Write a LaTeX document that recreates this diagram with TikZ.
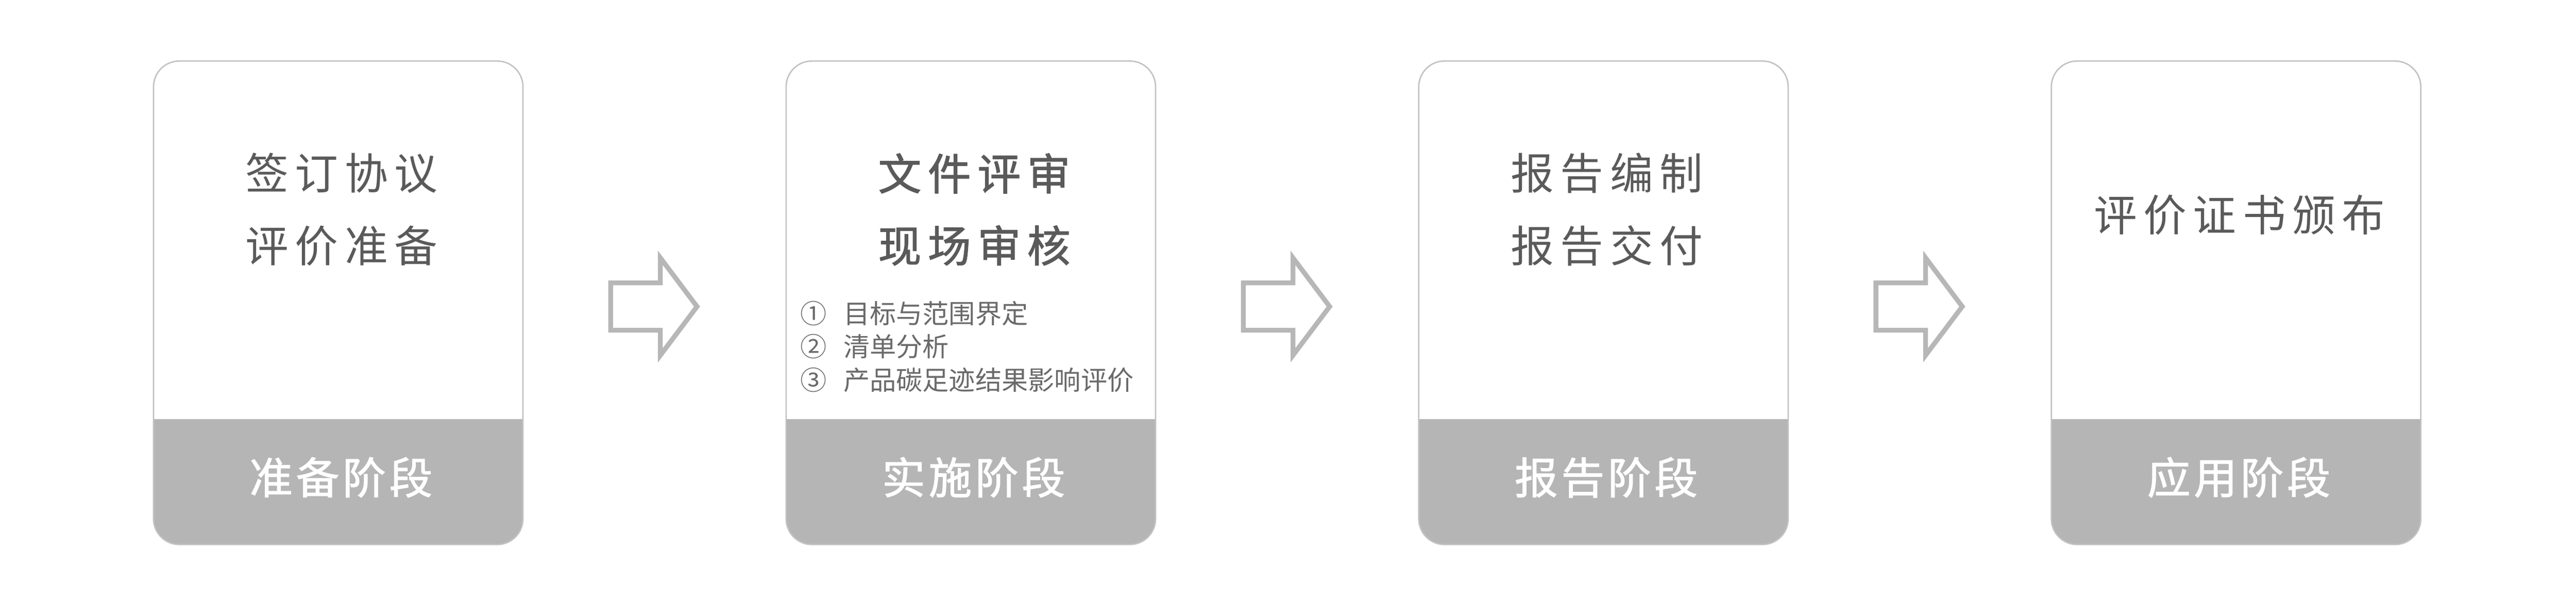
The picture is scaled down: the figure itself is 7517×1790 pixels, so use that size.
\documentclass[tikz,border=0pt]{standalone}
\usepackage{fontspec}
\newfontfamily\songf{Noto Sans CJK SC}
\newfontfamily\songbf{Noto Sans CJK SC}[FakeBold=1.5]
\newfontfamily\listf{Noto Sans CJK SC}
\definecolor{bordc}{HTML}{C2C2C2}
\definecolor{bandc}{HTML}{B5B5B5}
\definecolor{arrc}{HTML}{B7B7B7}
\definecolor{titc}{HTML}{5A5A5A}
\definecolor{lstc}{HTML}{6A6A6A}
\begin{document}
\begin{tikzpicture}[x=1pt,y=-1pt,
  stagebox/.style={draw=bordc, line width=4pt, fill=white, rounded corners=75pt,
    minimum width=1078pt, minimum height=1410pt, inner sep=0pt,
    path picture={\fill[bandc, sharp corners] (path picture bounding box.south west) rectangle ([yshift=366pt]path picture bounding box.south east);}},
  title/.style={text=titc, font=\songf\fontsize{126pt}{150pt}\selectfont\addfontfeature{LetterSpace=15}, anchor=base, inner sep=0pt},
  boldtitle/.style={title, font=\songbf\fontsize{126pt}{150pt}\selectfont\addfontfeature{LetterSpace=15}},
  stagelabel/.style={text=white, font=\songbf\fontsize{126pt}{150pt}\selectfont\addfontfeature{LetterSpace=8}, anchor=base, inner sep=0pt},
  item/.style={text=lstc, font=\listf\fontsize{77pt}{90pt}\selectfont, anchor=base west, inner sep=0pt},
  blockarrow/.style={draw=arrc, line width=14pt, fill=white, miter limit=10}
]
\useasboundingbox (0,0) rectangle (7517,1790);

% stage boxes
\node[stagebox] (b1) at (987,883) {};
\node[stagebox] (b2) at (2833,883) {};
\node[stagebox] (b3) at (4679,883) {};
\node[stagebox] (b4) at (6525,883) {};

% box 1
\node[title] (t1a) at (997,552) {签订协议};
\node[title] (t1b) at (997,764) {评价准备};
\node[stagelabel] (l1) at (995,1440) {准备阶段};

% box 2
\node[boldtitle] (t2a) at (2843,554) {文件评审};
\node[boldtitle] (t2b) at (2843,764) {现场审核};
\node[item] (n1) at (2336,943) {①};
\node[item] (i1) at (2461,943) {目标与范围界定};
\node[item] (n2) at (2336,1040) {②};
\node[item] (i2) at (2461,1040) {清单分析};
\node[item] (n3) at (2336,1138) {③};
\node[item] (i3) at (2461,1138) {产品碳足迹结果影响评价};
\node[stagelabel] (l2) at (2841,1440) {实施阶段};

% box 3
\node[title] (t3a) at (4689,552) {报告编制};
\node[title] (t3b) at (4689,764) {报告交付};
\node[stagelabel] (l3) at (4687,1440) {报告阶段};

% box 4
\node[title] (t4a) at (6535,674) {评价证书颁布};
\node[stagelabel] (l4) at (6533,1440) {应用阶段};

% block arrows between boxes
\foreach \dx in {0,1846,3692}{
  \draw[blockarrow] (1782+\dx,825) -- (1927+\dx,825) -- (1927+\dx,752) -- (2034+\dx,894)
     -- (1927+\dx,1036) -- (1927+\dx,963) -- (1782+\dx,963) -- cycle;
}
\end{tikzpicture}
\end{document}
